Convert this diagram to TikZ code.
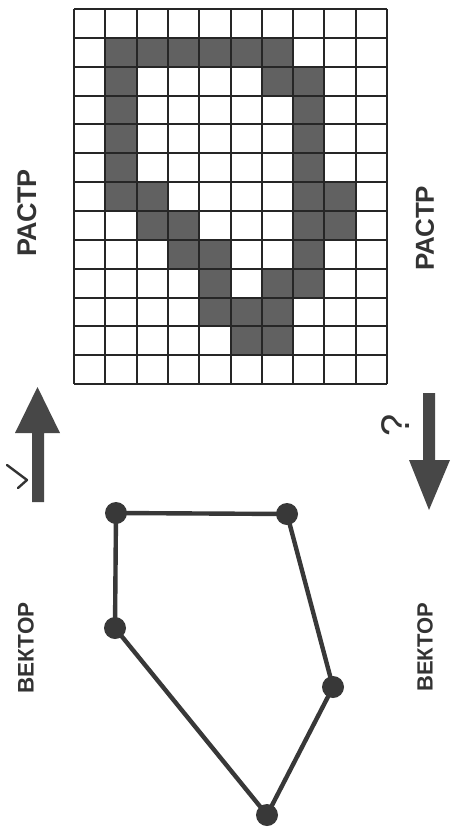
\documentclass[tikz,border=0pt]{standalone}
\usepackage{fontspec}
\setmainfont{Liberation Sans}
\begin{document}
\begin{tikzpicture}[x=1pt,y=-1pt,
  cellfill/.style={fill=black!62},
  gridline/.style={draw=black!85,line width=2pt},
  label/.style={font=\bfseries, text=black!80, rotate=90, inner sep=0pt},
  bigarrow/.style={fill=black!72, draw=none},
  edge/.style={draw=black!78, line width=4.4pt},
  vtx/.style={circle, fill=black!78, minimum size=22pt, inner sep=0pt}]
\useasboundingbox (0,0) rectangle (455,832);
\fill[white] (0,0) rectangle (455,832);
% raster grid: 10 columns x 13 rows
\def\gx{74}\def\gy{9}\def\cw{31.3}\def\ch{28.85}
\foreach \r/\c in {1/1,1/2,1/3,1/4,1/5,1/6,
  2/1,2/6,2/7, 3/1,3/7, 4/1,4/7, 5/1,5/7,
  6/1,6/2,6/7,6/8, 7/2,7/3,7/7,7/8, 8/3,8/4,8/7,
  9/4,9/6,9/7, 10/4,10/5,10/6, 11/5,11/6}
  \fill[cellfill] ({\gx+\c*\cw},{\gy+\r*\ch}) rectangle ++(\cw,\ch);
\foreach \c in {0,...,10}
  \draw[gridline] ({\gx+\c*\cw},\gy) -- ({\gx+\c*\cw},{\gy+13*\ch});
\foreach \r in {0,...,13}
  \draw[gridline] (\gx,{\gy+\r*\ch}) -- ({\gx+10*\cw},{\gy+\r*\ch});
% labels
\node[label,font=\bfseries\fontsize{27}{27}\selectfont] (rastrL) at (27,213) {РАСТР};
\node[label,font=\bfseries\fontsize{26}{26}\selectfont] (rastrR) at (425,228) {РАСТР};
\node[label,font=\bfseries\fontsize{22.5}{22.5}\selectfont] (vektorL) at (26,648) {ВЕКТОР};
\node[label,font=\bfseries\fontsize{22}{22}\selectfont] (vektorR) at (425,647) {ВЕКТОР};
% up arrow
\fill[bigarrow] (32,502) -- (32,433) -- (15,433) -- (37.5,387) -- (60,433) -- (44,433) -- (44,502) -- cycle;
\coordinate (chkA) at (7,465);
\coordinate (chkB) at (27,480);
\coordinate (chkC) at (18,488);
\draw[black!80,line width=2.4pt,line cap=round,line join=round] (chkA) -- (chkB) -- (chkC);
% down arrow
\fill[bigarrow] (423,393) -- (423,460) -- (409,460) -- (429,510) -- (450,460) -- (435,460) -- (435,393) -- cycle;
\node[rotate=90,font=\fontsize{40}{40}\selectfont,text=black!80,inner sep=0pt] (qmark) at (396,425) {?};
% vector polygon
\node[vtx] (v1) at (116,513) {};
\node[vtx] (v2) at (287,514) {};
\node[vtx] (v3) at (115,628) {};
\node[vtx] (v4) at (333,687) {};
\node[vtx] (v5) at (267,815) {};
\draw[edge] (v1.center) -- (v2.center);
\draw[edge] (v1.center) -- (v3.center);
\draw[edge] (v3.center) -- (v5.center);
\draw[edge] (v5.center) -- (v4.center);
\draw[edge] (v4.center) -- (v2.center);
\end{tikzpicture}
\end{document}
